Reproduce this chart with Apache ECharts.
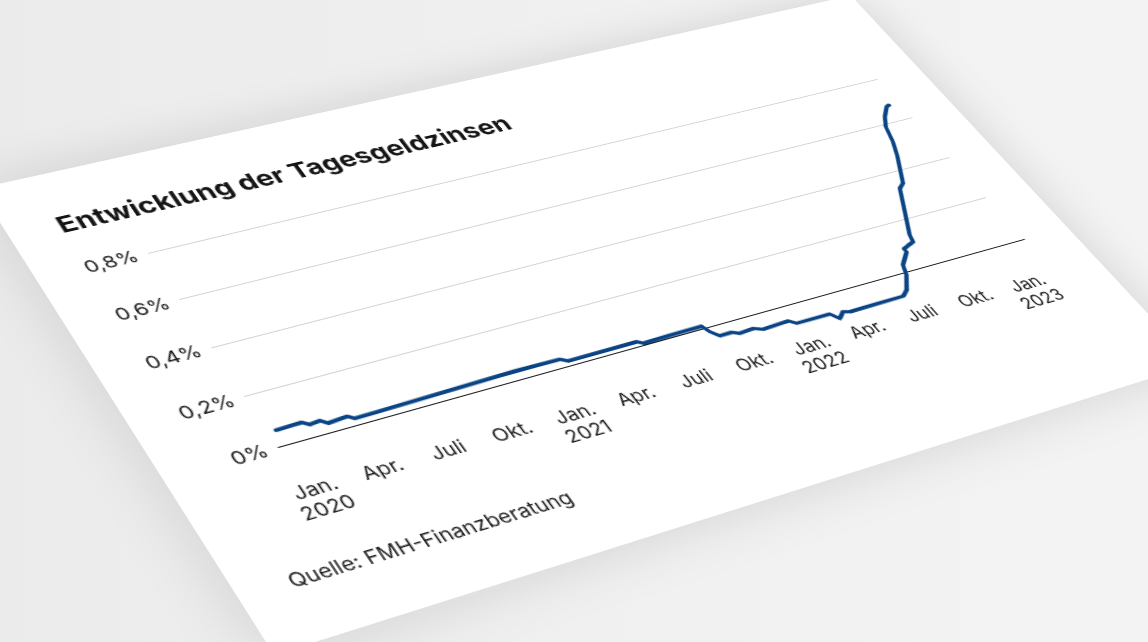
<!DOCTYPE html>
<html><head><meta charset="utf-8">
<script src="https://cdn.jsdelivr.net/npm/echarts@6/dist/echarts.min.js"></script>
<style>
html,body{margin:0;padding:0;width:1148px;height:642px;overflow:hidden;background:linear-gradient(90deg,#ebebeb 0%,#f1f1f2 60%,#f3f3f4 100%);}
#card{position:absolute;left:0;top:0;width:840px;height:500px;background:#fff;transform-origin:0 0;box-shadow:0 0 50px rgba(0,0,0,0.13);}
#chart{width:840px;height:500px;}
</style></head><body>
<div id="card"><div id="chart"></div></div>
<script>
// ---- data ----
const titleText = 'Entwicklung der Tagesgeldzinsen';
const sourceText = 'Quelle: FMH-Finanzberatung';
const xTickMonths = [0, 3, 6, 9, 12, 15, 18, 21, 24, 27, 30, 33, 36]; // months since Jan. 2020
const xTickLabels = ['Jan.\n2020', 'Apr.', 'Juli', 'Okt.', 'Jan.\n2021', 'Apr.', 'Juli', 'Okt.', 'Jan.\n2022', 'Apr.', 'Juli', 'Okt.', 'Jan.\n2023'];
const yTickValues = [0, 0.2, 0.4, 0.6, 0.8];
const yTickLabels = ['0%', '0,2%', '0,4%', '0,6%', '0,8%'];
const rateMonths = [0, 1.16, 1.42, 1.9, 2.15, 3.05, 3.29, 10.9, 13.05, 13.34, 16.76, 16.98, 20.0, 20.16, 20.45, 21.06, 21.38, 22.12, 22.51, 23.89, 24.16, 25.94, 26.21, 26.6, 26.9, 29.85, 30.23, 30.82, 31.06, 31.75, 31.74, 32.45, 32.57, 33.3, 34.04, 34.4, 35.32, 35.7, 36.01, 36.4, 36.92, 37.12];
const rateValues = [0.057, 0.060, 0.045, 0.049, 0.033, 0.038, 0.024, 0.034, 0.032, 0.018, 0.019, 0.007, 0.010, -0.018, -0.043, -0.042, -0.054, -0.050, -0.063, -0.058, -0.075, -0.076, -0.102, -0.081, -0.088, -0.086, -0.068, -0.012, 0.029, 0.075, 0.088, 0.106, 0.135, 0.230, 0.326, 0.343, 0.462, 0.521, 0.590, 0.632, 0.672, 0.677];

// ---- layout of the flat card ----
const CARD_W = 840, CARD_H = 500;
const GL = 92, GT = 108, GW = 701, GH = 218;
// where the grid rectangle appears in the photographed (tilted) card: TL, TR, BR, BL
const gridQuad = [[148, 253], [877, 79], [1024, 239], [278, 447]];

function squareToQuad(q) {
  const [x0, y0] = q[0], [x1, y1] = q[1], [x2, y2] = q[2], [x3, y3] = q[3];
  const dx1 = x1 - x2, dx2 = x3 - x2, dx3 = x0 - x1 + x2 - x3;
  const dy1 = y1 - y2, dy2 = y3 - y2, dy3 = y0 - y1 + y2 - y3;
  const den = dx1 * dy2 - dx2 * dy1;
  const g = (dx3 * dy2 - dx2 * dy3) / den, h = (dx1 * dy3 - dx3 * dy1) / den;
  return [x1 - x0 + g * x1, x3 - x0 + h * x3, x0, y1 - y0 + g * y1, y3 - y0 + h * y3, y0, g, h, 1];
}
const [a, b, c, d, e, f, g, h] = squareToQuad(gridQuad);
const M00 = a / GW, M01 = b / GH, M02 = -a * GL / GW - b * GT / GH + c;
const M10 = d / GW, M11 = e / GH, M12 = -d * GL / GW - e * GT / GH + f;
const M20 = g / GW, M21 = h / GH, M22 = -g * GL / GW - h * GT / GH + 1;
document.getElementById('card').style.transform =
  'matrix3d(' + [M00, M10, 0, M20, M01, M11, 0, M21, 0, 0, 1, 0, M02, M12, 0, M22].join(',') + ')';

const chart = echarts.init(document.getElementById('chart'), null, { renderer: 'svg', width: CARD_W, height: CARD_H });
const FONT = 'Inter';
chart.setOption({
  animation: false,
  backgroundColor: 'transparent',
  title: [
    { text: titleText, left: 40, top: 46, padding: 0,
      textStyle: { fontFamily: FONT, fontSize: 24.5, fontWeight: 700, color: '#151515' } },
    { text: sourceText, left: 40, top: 437, padding: 0,
      textStyle: { fontFamily: FONT, fontSize: 17, fontWeight: 400, color: '#1a1a1a' } }
  ],
  grid: { left: GL, top: GT, width: GW, height: GH },
  xAxis: {
    type: 'value', min: -0.35, max: 37.7,
    axisLine: { lineStyle: { color: '#1a1a1a', width: 1 } },
    axisTick: { show: false },
    splitLine: { show: false },
    axisLabel: {
      customValues: xTickMonths,
      formatter: (v) => xTickLabels[xTickMonths.indexOf(Math.round(v))],
      margin: 36, fontFamily: FONT, fontSize: 17, lineHeight: 20, color: '#1a1a1a'
    }
  },
  yAxis: {
    type: 'value', min: 0, max: 0.8, interval: 0.2,
    axisLine: { show: false }, axisTick: { show: false },
    splitLine: { lineStyle: { color: '#d2d2d2', width: 1 } },
    axisLabel: {
      formatter: (v) => yTickLabels[yTickValues.findIndex(t => Math.abs(t - v) < 1e-6)],
      margin: 9, fontFamily: FONT, fontSize: 17.5, color: '#1a1a1a'
    }
  },
  series: [{
    type: 'line', data: rateMonths.map((m, i) => [m, rateValues[i]]),
    showSymbol: false, clip: false, z: 3,
    lineStyle: { color: '#0b4485', width: 3.8, join: 'round', cap: 'round' }
  }]
});
</script>
</body></html>
